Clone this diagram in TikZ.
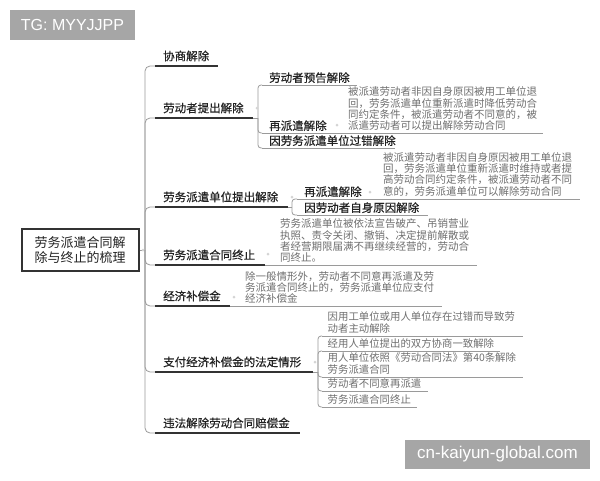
\documentclass[tikz,border=0pt]{standalone}
\usepackage{fontspec}
\setmainfont{Liberation Sans}
\newfontfamily\cjk{Noto Sans CJK SC}
\newfontfamily\cjkb[FakeBold=0.6]{Noto Sans CJK SC}
\definecolor{lineDark}{HTML}{333333}
\definecolor{lineGray}{HTML}{9A9A9A}
\definecolor{txtMain}{HTML}{222222}
\definecolor{txtDesc}{HTML}{6E6E6E}
\definecolor{wmGray}{HTML}{A6A6A6}
\definecolor{dotGray}{HTML}{D4D4D4}
\begin{document}
\begin{tikzpicture}[x=1pt,y=-1pt,
  rootbox/.style={draw=lineDark, line width=2pt, minimum width=117pt, minimum height=42pt, align=center, inner sep=2pt, text=txtMain, font=\cjk\fontsize{13}{14.5}\selectfont},
  mainlbl/.style={anchor=south west, inner xsep=8pt, inner ysep=4.5pt, align=left, text=txtMain, font=\cjkb\fontsize{11.5}{13}\selectfont},
  sublbl/.style={anchor=south west, inner xsep=7pt, inner ysep=1.8pt, align=left, text=txtMain, font=\cjkb\fontsize{11.5}{13}\selectfont},
  leaflbl/.style={anchor=south west, inner xsep=5.5pt, inner ysep=2.5pt, align=left, text=txtDesc, font=\cjk\fontsize{10.4}{11.6}\selectfont},
  desc/.style={anchor=south west, inner xsep=0pt, inner ysep=2.5pt, align=left, text=txtDesc, font=\cjk\fontsize{10.5}{11.2}\selectfont},
  mainline/.style={draw=lineDark, line width=1.8pt},
  subline/.style={draw=lineGray, line width=0.8pt},
  conn/.style={draw=lineGray, line width=0.8pt, rounded corners=5pt},
  bconn/.style={draw=lineGray, line width=0.8pt, rounded corners=3pt},
  marker/.style={circle, fill=dotGray, inner sep=0pt, minimum size=3pt},
  wm/.style={fill=wmGray, text=white, inner sep=0pt}
]
\useasboundingbox (0,0) rectangle (600,480);

% watermarks
\node[wm, minimum width=125pt, minimum height=30pt, font=\fontsize{16}{18}\selectfont] (wm1) at (72.5,25) {TG: MYYJJPP};
\node[wm, minimum width=185pt, minimum height=29pt, font=\fontsize{17}{19}\selectfont] (wm2) at (497.5,454.5) {cn-kaiyun-global.com};

% root
\node[rootbox] (root) at (80,250) {劳务派遣合同解\\除与终止的梳理};
\coordinate (hub) at (145,250);

% main branches
\node[mainlbl, text width=47pt]  (b1) at (155,66)  {协商解除};
\node[mainlbl, text width=82pt]  (b2) at (155,118) {劳动者提出解除};
\node[mainlbl, text width=117pt] (b3) at (155,207) {劳务派遣单位提出解除};
\node[mainlbl, text width=94pt]  (b4) at (155,265) {劳务派遣合同终止};
\node[mainlbl, text width=59pt]  (b5) at (155,306) {经济补偿金};
\node[mainlbl, text width=142pt] (b6) at (155,372) {支付经济补偿金的法定情形};
\node[mainlbl, text width=129pt] (b7) at (155,433) {违法解除劳动合同赔偿金};

\draw[subline] (root.east) -- (hub);
\foreach \b in {b1,b2,b3,b4,b5,b6,b7} {\draw[conn] (hub) |- (\b.south west);}

% descriptions of b4 and b5
\node[desc, text width=197pt] (d4) at (280,265) {劳务派遣单位被依法宣告破产、吊销营业\\执照、责令关闭、撤销、决定提前解散或\\者经营期限届满不再继续经营的，劳动合\\同终止。};
\node[desc, text width=197pt] (d5) at (245,306) {除一般情形外，劳动者不同意再派遣及劳\\务派遣合同终止的，劳务派遣单位应支付\\经济补偿金};
\draw[subline] (b4.south east) -- (d4.south east);
\draw[subline] (b5.south east) -- (d5.south east);

% children of b2
\coordinate (j2) at (258,118);
\node[sublbl, text width=81pt]  (s21) at (262,85)  {劳动者预告解除};
\node[sublbl, text width=58pt]  (s22) at (262,133) {再派遣解除};
\node[sublbl, text width=119pt] (s23) at (262,148) {因劳务派遣单位过错解除};
\node[desc, text width=195pt] (d22) at (348,133) {被派遣劳动者非因自身原因被用工单位退\\回，劳务派遣单位重新派遣时降低劳动合\\同约定条件，被派遣劳动者不同意的，被\\派遣劳动者可以提出解除劳动合同};
\draw[subline] (b2.south east) -- (j2);
\foreach \s in {s21,s22,s23} {\draw[bconn] (j2) |- (\s.south west);}
\draw[subline] (s21.south west) -- (s21.south east);
\draw[subline] (s22.south west) -- (d22.south east);
\draw[subline] (s23.south west) -- (s23.south east);

% children of b3
\coordinate (j3) at (292,207);
\node[sublbl, text width=59pt]  (s31) at (297,199) {再派遣解除};
\node[sublbl, text width=117pt] (s32) at (297,215) {因劳动者自身原因解除};
\node[desc, text width=197pt] (d31) at (383,199) {被派遣劳动者非因自身原因被用工单位退\\回，劳务派遣单位重新派遣时维持或者提\\高劳动合同约定条件，被派遣劳动者不同\\意的，劳务派遣单位可以解除劳动合同};
\draw[subline] (b3.south east) -- (j3);
\foreach \s in {s31,s32} {\draw[bconn] (j3) |- (\s.south west);}
\draw[subline] (s31.south west) -- (d31.south east);
\draw[subline] (s32.south west) -- (s32.south east);

% children of b6
\coordinate (j6) at (318,372);
\node[leaflbl, text width=190pt] (s61) at (322,336) {因用工单位或用人单位存在过错而导致劳\\动者主动解除};
\node[leaflbl, text width=167pt] (s62) at (322,351) {经用人单位提出的双方协商一致解除};
\node[leaflbl, text width=190pt] (s63) at (322,377) {用人单位依照《劳动合同法》第40条解除\\劳务派遣合同};
\node[leaflbl, text width=95pt]  (s64) at (322,391) {劳动者不同意再派遣};
\node[leaflbl, text width=84pt]  (s65) at (322,407) {劳务派遣合同终止};
\draw[subline] (b6.south east) -- (j6);
\foreach \s in {s61,s62,s63,s64,s65} {\draw[bconn] (j6) |- (\s.south west);
  \draw[subline] (\s.south west) -- (\s.south east);}

% main underlines on top
\foreach \b in {b1,b2,b3,b4,b5,b6,b7} {\draw[mainline] (\b.south west) -- (\b.south east);}

% faint collapse markers
\node[marker] (m0) at (143,250) {};
\node[marker] (m2) at (257,108) {};
\node[marker] (m22) at (337,125) {};
\node[marker] (m3) at (292,197) {};
\node[marker] (m31) at (370,192) {};
\node[marker] (m4) at (268,254) {};
\node[marker] (m5) at (234,297) {};
\node[marker] (m6) at (315,362) {};
\end{tikzpicture}
\end{document}
